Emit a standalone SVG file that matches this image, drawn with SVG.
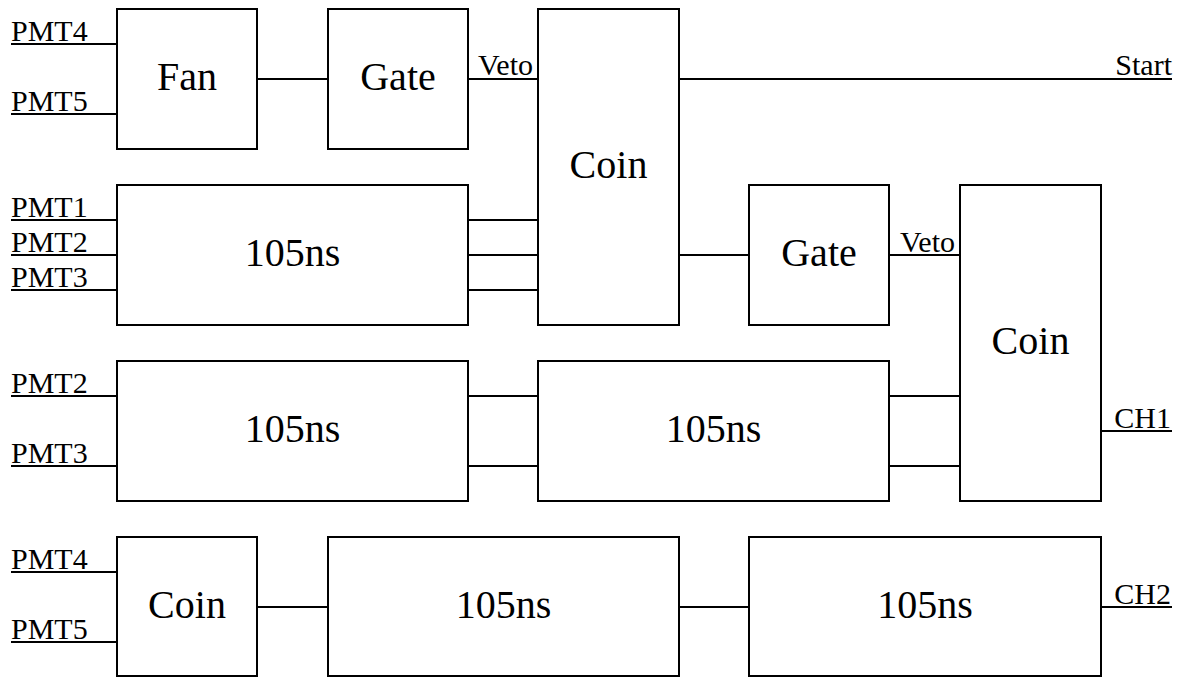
<svg xmlns="http://www.w3.org/2000/svg" width="1181" height="677" viewBox="0 0 1181 677">
<style>
.box{fill:#fff;stroke:#000;stroke-width:2}
.w{stroke:#000;stroke-width:2;fill:none}
</style>
<rect width="1181" height="677" fill="#fff"/>
<g id="connectors" class="w">
<line x1="11" y1="44" x2="117" y2="44"/>
<line x1="11" y1="114" x2="117" y2="114"/>
<line x1="257" y1="79" x2="328" y2="79"/>
<line x1="468" y1="79" x2="538" y2="79"/>
<line x1="679" y1="79" x2="1172" y2="79"/>
<line x1="11" y1="220" x2="117" y2="220"/>
<line x1="11" y1="255" x2="117" y2="255"/>
<line x1="11" y1="290" x2="117" y2="290"/>
<line x1="468" y1="220" x2="538" y2="220"/>
<line x1="468" y1="255" x2="538" y2="255"/>
<line x1="468" y1="290" x2="538" y2="290"/>
<line x1="679" y1="255" x2="749" y2="255"/>
<line x1="889" y1="255" x2="960" y2="255"/>
<line x1="11" y1="396" x2="117" y2="396"/>
<line x1="11" y1="466" x2="117" y2="466"/>
<line x1="468" y1="396" x2="538" y2="396"/>
<line x1="468" y1="466" x2="538" y2="466"/>
<line x1="889" y1="396" x2="960" y2="396"/>
<line x1="889" y1="466" x2="960" y2="466"/>
<line x1="1101" y1="431" x2="1172" y2="431"/>
<line x1="11" y1="572" x2="117" y2="572"/>
<line x1="11" y1="642" x2="117" y2="642"/>
<line x1="257" y1="607" x2="328" y2="607"/>
<line x1="679" y1="607" x2="749" y2="607"/>
<line x1="1101" y1="607" x2="1172" y2="607"/>
</g>
<g id="labels" font-family="'Liberation Serif', 'Times New Roman', serif" font-size="30" fill="#000">
<text x="11" y="41">PMT4</text>
<text x="11" y="111">PMT5</text>
<text x="478" y="75">Veto</text>
<text x="1172" y="75" text-anchor="end">Start</text>
<text x="11" y="217">PMT1</text>
<text x="11" y="252">PMT2</text>
<text x="11" y="287">PMT3</text>
<text x="900" y="252">Veto</text>
<text x="11" y="393">PMT2</text>
<text x="11" y="463">PMT3</text>
<text x="1171" y="428" text-anchor="end">CH1</text>
<text x="11" y="569">PMT4</text>
<text x="11" y="639">PMT5</text>
<text x="1171" y="604" text-anchor="end">CH2</text>
</g>
<g id="nodes" font-family="'Liberation Serif', 'Times New Roman', serif" font-size="40" text-anchor="middle" fill="#000">
<g id="fan"><rect class="box" x="117" y="9" width="140" height="140"/><text x="187" y="90">Fan</text></g>
<g id="gate1"><rect class="box" x="328" y="9" width="140" height="140"/><text x="398" y="90">Gate</text></g>
<g id="coin1"><rect class="box" x="538" y="9" width="141" height="316"/><text x="608.5" y="178">Coin</text></g>
<g id="delay1"><rect class="box" x="117" y="185" width="351" height="140"/><text x="292.5" y="266">105ns</text></g>
<g id="gate2"><rect class="box" x="749" y="185" width="140" height="140"/><text x="819" y="266">Gate</text></g>
<g id="coin2"><rect class="box" x="960" y="185" width="141" height="316"/><text x="1030.5" y="354">Coin</text></g>
<g id="delay2"><rect class="box" x="117" y="361" width="351" height="140"/><text x="292.5" y="442">105ns</text></g>
<g id="delay3"><rect class="box" x="538" y="361" width="351" height="140"/><text x="713.5" y="442">105ns</text></g>
<g id="coin3"><rect class="box" x="117" y="537" width="140" height="139"/><text x="187" y="618">Coin</text></g>
<g id="delay4"><rect class="box" x="328" y="537" width="351" height="139"/><text x="503.5" y="618">105ns</text></g>
<g id="delay5"><rect class="box" x="749" y="537" width="352" height="139"/><text x="925" y="618">105ns</text></g>
</g>
</svg>
